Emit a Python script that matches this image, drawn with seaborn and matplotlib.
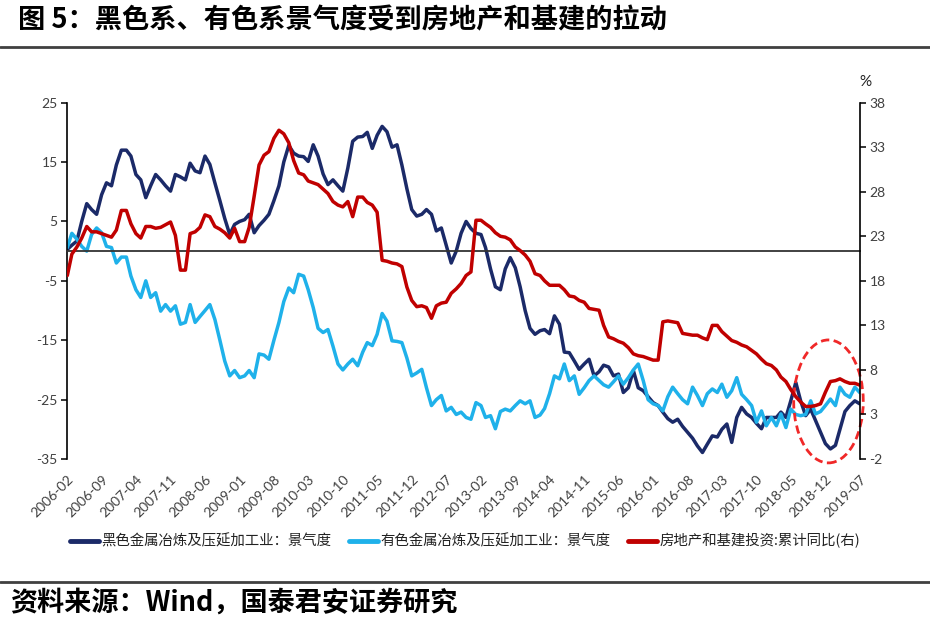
import matplotlib
matplotlib.use("Agg")
import matplotlib.pyplot as plt
import matplotlib.dates as mdates
from matplotlib.patches import Ellipse
from matplotlib.lines import Line2D
import pandas as pd
import seaborn as sns

# monthly data, 2006-02 .. 2019-07
months = pd.date_range("2006-02-01", "2019-07-01", freq="MS")

black_metal = [
    0.3, 1.0, 1.7, 5.0, 8.0, 7.0, 6.2, 9.5, 11.5, 11.0,
    14.5, 17.0, 17.0, 16.0, 12.9, 12.0, 9.0, 11.0, 12.9, 12.0,
    11.0, 10.1, 12.9, 12.5, 12.0, 14.8, 13.5, 13.2, 16.0, 14.6,
    11.5, 8.5, 5.5, 2.8, 4.5, 5.0, 5.3, 6.2, 3.1, 4.3,
    5.2, 6.2, 8.5, 11.0, 15.0, 17.8, 16.5, 16.0, 15.9, 15.1,
    17.9, 16.0, 13.0, 11.2, 12.0, 11.0, 10.1, 14.0, 18.5, 19.2,
    19.3, 20.0, 17.3, 19.5, 21.0, 20.1, 17.5, 17.9, 14.5, 10.5,
    7.0, 5.9, 6.2, 7.0, 6.2, 3.4, 3.9, 1.0, -2.0, 0.0,
    3.0, 5.0, 3.8, 3.0, 2.8, 0.6, -3.0, -6.0, -6.5, -3.0,
    -1.1, -2.8, -6.0, -10.0, -13.0, -14.0, -13.4, -13.2, -13.9, -10.9,
    -12.3, -17.0, -17.1, -18.5, -19.9, -19.0, -18.2, -21.0, -20.3, -19.2,
    -19.5, -21.0, -20.7, -23.8, -23.0, -20.1, -23.0, -23.5, -24.5, -25.5,
    -26.0, -27.1, -28.2, -28.8, -28.3, -29.5, -30.5, -31.5, -32.8, -33.9,
    -32.5, -31.1, -31.3, -30.0, -29.1, -32.2, -28.0, -26.3, -27.4, -28.0,
    -29.0, -29.9, -28.0, -28.0, -28.0, -27.1, -28.0, -25.2, -22.1, -25.2,
    -27.7, -26.6, -28.5, -30.5, -32.4, -33.3, -32.7, -30.0, -27.0, -26.0,
    -25.2, -25.7,
]

nonferrous = [
    0.6, 3.0, 2.0, 0.8, 0.0, 2.8, 3.9, 3.1, 0.8, 0.6,
    -2.0, -1.0, -1.0, -4.2, -6.5, -7.8, -5.0, -7.8, -7.0, -10.1,
    -9.0, -10.1, -9.2, -12.3, -12.0, -9.0, -12.0, -11.0, -10.0, -9.0,
    -11.5, -15.0, -18.5, -21.0, -20.1, -21.3, -21.0, -20.1, -21.3, -17.3,
    -17.5, -18.2, -15.0, -12.0, -8.5, -6.2, -7.0, -3.9, -4.2, -6.5,
    -9.5, -13.0, -13.7, -13.2, -16.0, -19.0, -20.0, -19.0, -18.2, -19.3,
    -17.0, -15.4, -15.9, -14.0, -10.5, -11.8, -15.1, -15.2, -15.4, -18.0,
    -21.0, -20.5, -19.9, -23.0, -26.0, -25.0, -24.3, -26.9, -26.3, -27.5,
    -27.1, -28.0, -28.3, -25.5, -26.0, -28.0, -27.7, -29.9, -27.0, -26.6,
    -26.9, -26.0, -25.2, -25.7, -25.2, -28.0, -27.6, -26.5, -24.0, -21.0,
    -21.5, -19.0, -21.8, -21.0, -24.1, -23.0, -21.8, -21.0, -21.8, -22.5,
    -22.9, -22.0, -21.0, -22.4, -21.3, -20.0, -19.0, -21.8, -25.0, -25.7,
    -26.0, -26.9, -24.5, -22.9, -24.0, -25.0, -25.7, -22.9, -24.3, -26.0,
    -24.0, -23.2, -23.8, -22.4, -24.6, -23.5, -21.3, -24.1, -25.0, -26.0,
    -28.8, -26.9, -29.4, -28.0, -29.4, -27.4, -29.7, -26.6, -27.5, -27.7,
    -27.5, -25.2, -27.4, -27.0, -26.0, -24.9, -26.0, -22.9, -24.1, -24.6,
    -22.9, -23.8,
]

property_infra = [
    18.6, 21.0, 21.8, 22.8, 24.1, 23.5, 23.5, 23.3, 23.1, 22.9,
    23.7, 25.9, 25.9, 24.4, 23.3, 22.8, 24.1, 24.1, 23.9, 24.0,
    24.3, 24.6, 23.1, 19.2, 19.2, 23.3, 23.5, 24.0, 25.4, 25.2,
    24.1, 23.8, 23.4, 22.8, 23.9, 22.4, 22.4, 24.0, 27.5, 31.0,
    32.1, 32.5, 34.0, 34.9, 34.5, 33.5, 31.5, 30.1, 29.9, 29.2,
    29.0, 28.8, 28.3, 27.8, 26.9, 26.5, 26.3, 26.9, 25.2, 27.4,
    27.4, 26.8, 26.5, 25.7, 20.3, 20.2, 20.0, 19.9, 19.6, 17.3,
    15.8, 15.1, 15.2, 15.0, 13.8, 15.2, 15.5, 15.6, 16.6, 17.1,
    17.7, 18.6, 19.0, 24.8, 24.8, 24.4, 24.0, 23.4, 23.0, 22.9,
    22.6, 21.8, 21.4, 20.9, 20.2, 18.8, 18.6, 18.0, 17.5, 17.5,
    17.5, 17.0, 16.3, 16.2, 15.8, 15.6, 14.9, 14.8, 14.7, 13.0,
    11.7, 11.5, 11.2, 11.0, 10.5, 9.8, 9.6, 9.5, 9.3, 9.1,
    9.1, 13.4, 13.5, 13.4, 13.3, 12.1, 12.0, 11.9, 11.9, 11.6,
    11.4, 13.0, 13.0, 12.3, 11.8, 11.3, 11.1, 10.8, 10.6, 10.2,
    9.8, 9.2, 8.7, 8.5, 8.0, 7.2, 6.7, 5.8, 5.0, 4.4,
    3.9, 3.9, 4.0, 4.2, 5.5, 6.7, 6.8, 7.0, 6.7, 6.5,
    6.5, 6.3,
]

series_names = [
    "黑色金属冶炼及压延加工业：景气度",
    "有色金属冶炼及压延加工业：景气度",
    "房地产和基建投资:累计同比(右)",
]
left_ticks = [-35, -25, -15, -5, 5, 15, 25]
right_ticks = [-2, 3, 8, 13, 18, 23, 28, 33, 38]
x_ticks = months[::7]
x_labels = [d.strftime("%Y-%m") for d in x_ticks]

df = pd.DataFrame({
    "date": months,
    "black": black_metal,
    "nonferrous": nonferrous,
    "property": property_infra,
})

navy = "#1B2A68"
light_blue = "#1FB1EA"
red = "#C00000"
grey_txt = "#404040"

sns.set_style("white")
plt.rcParams["font.family"] = ["Noto Sans CJK SC", "DejaVu Sans"]
plt.rcParams["axes.unicode_minus"] = False

fig = plt.figure(figsize=(9.3, 6.22), dpi=100)
ax = fig.add_axes([0.0724, 0.262, 0.852, 0.573])
ax2 = ax.twinx()

sns.lineplot(data=df, x="date", y="black", ax=ax, color=navy, linewidth=2.5)
sns.lineplot(data=df, x="date", y="nonferrous", ax=ax, color=light_blue, linewidth=2.5)
sns.lineplot(data=df, x="date", y="property", ax=ax2, color=red, linewidth=2.5)

ax.set_xlim(months[0], months[-1])
ax.set_ylim(-35, 25)
ax2.set_ylim(-2, 38)
ax.set_xlabel("")
ax.set_ylabel("")
ax2.set_ylabel("")

# y axes
ax.set_yticks(left_ticks)
ax2.set_yticks(right_ticks)
for a in (ax, ax2):
    a.tick_params(axis="y", direction="out", length=4, width=1.1, color="black",
                  labelsize=10, labelcolor=grey_txt, pad=3)
    for lab in a.get_yticklabels():
        lab.set_family(["Lato", "DejaVu Sans"])
    a.spines["top"].set_visible(False)
ax.spines["right"].set_visible(False)
ax2.spines["left"].set_visible(False)
ax2.spines["bottom"].set_visible(False)
ax.spines["left"].set_color("black")
ax.spines["left"].set_linewidth(1.2)
ax2.spines["right"].set_color("black")
ax2.spines["right"].set_linewidth(1.2)

# category axis crosses at zero, labels stay at the bottom
ax.spines["bottom"].set_position(("data", 0))
ax.spines["bottom"].set_color("#333333")
ax.spines["bottom"].set_linewidth(1.3)
ax.set_xticks(x_ticks)
ax.set_xticklabels([])
ax.tick_params(axis="x", direction="out", length=3, width=1.1, color="black")

sec = ax.secondary_xaxis("bottom")
sec.set_xticks(mdates.date2num(x_ticks))
sec.set_xticklabels(x_labels, rotation=45, ha="right", rotation_mode="anchor",
                    fontsize=10, color=grey_txt, family=["Lato", "DejaVu Sans"])
sec.tick_params(axis="x", length=0, pad=10)
sec.spines["bottom"].set_visible(False)

# highlight of the latest months
ell = Ellipse((mdates.date2num(pd.Timestamp("2018-12-20")), -25.3),
              width=430, height=20.7, transform=ax.transData, fill=False,
              edgecolor="#F02828", linestyle=(0, (3, 1.6)), linewidth=2.0,
              clip_on=False, zorder=5)
ax.add_patch(ell)

fig.text(865 / 930, 1 - 82 / 622, "%", fontsize=11, color="#222222",
         ha="center", va="center", family=["Lato", "DejaVu Sans"])

# legend
handles = [Line2D([], [], color=c, linewidth=3.5) for c in (navy, light_blue, red)]
fig.legend(handles, series_names, loc="center", bbox_to_anchor=(0.5, 1 - 541 / 622),
           ncol=3, frameon=False, fontsize=10.4, handlelength=2.0,
           handletextpad=0.2, columnspacing=1.2, labelcolor="#222222")

# header and footer
fig.text(18 / 930, 1 - 20 / 622, "图 5：黑色系、有色系景气度受到房地产和基建的拉动",
         fontsize=19.6, fontweight="bold", ha="left", va="center", color="black")
fig.add_artist(Line2D([0, 1], [1 - 47 / 622] * 2, transform=fig.transFigure,
                      color="#404040", linewidth=2))
fig.add_artist(Line2D([0, 1], [1 - 582 / 622] * 2, transform=fig.transFigure,
                      color="#404040", linewidth=2))
fig.text(10 / 930, 1 - 603 / 622, "资料来源：Wind，国泰君安证券研究",
         fontsize=19.5, fontweight="bold", ha="left", va="center", color="black")

fig.savefig("out.png", dpi=100)
